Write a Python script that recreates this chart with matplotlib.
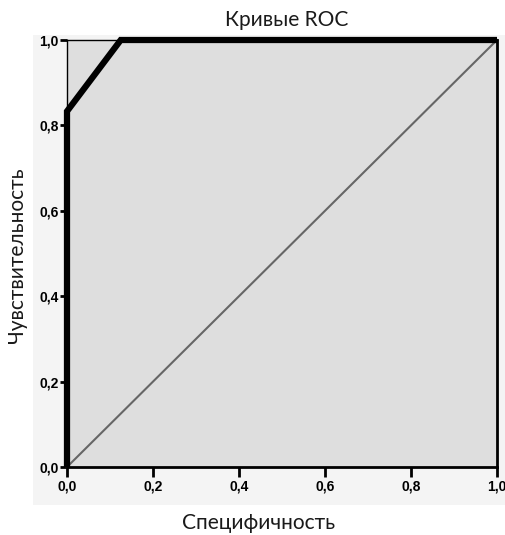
import matplotlib
matplotlib.use("Agg")
import matplotlib.pyplot as plt
from matplotlib.ticker import FixedLocator, FuncFormatter

# ROC curve data (1 - specificity on x, sensitivity on y)
roc_x = [0.0, 0.0, 0.125, 1.0]
roc_y = [0.0, 0.833, 1.0, 1.0]
ref_x = [0.0, 1.0]
ref_y = [0.0, 1.0]
ticks = [0.0, 0.2, 0.4, 0.6, 0.8, 1.0]

title = "Кривые ROC"
xlabel = "Специфичность"
ylabel = "Чувствительность"

W, H = 506, 535
fig = plt.figure(figsize=(W / 100, H / 100), dpi=100)
fig.patch.set_facecolor("white")

# light panel behind the chart
bg = fig.add_axes([33 / W, 1 - 505 / H, (W - 33) / W, (505 - 35) / H], zorder=0)
bg.set_facecolor("#f4f4f4")
bg.set_xticks([])
bg.set_yticks([])
for s in bg.spines.values():
    s.set_visible(False)

ax = fig.add_axes([67 / W, 1 - 467 / H, (497 - 67) / W, (467 - 40) / H], zorder=1)
ax.set_facecolor("#dedede")
ax.set_xlim(0, 1)
ax.set_ylim(0, 1)

ax.plot(ref_x, ref_y, color="#666666", lw=1.5, zorder=2, clip_on=False)
ax.plot(roc_x, roc_y, color="black", lw=4.5, zorder=3, clip_on=False,
        solid_capstyle="butt", solid_joinstyle="miter")

for s in ["left", "top"]:
    ax.spines[s].set_linewidth(1.0)
for s in ["right", "bottom"]:
    ax.spines[s].set_linewidth(2.0)

fmt = FuncFormatter(lambda v, p: f"{v:.1f}".replace(".", ","))
ax.xaxis.set_major_locator(FixedLocator(ticks))
ax.yaxis.set_major_locator(FixedLocator(ticks))
ax.xaxis.set_major_formatter(fmt)
ax.yaxis.set_major_formatter(fmt)
ax.tick_params(axis="x", direction="out", length=7, width=2, pad=2, labelsize=10)
ax.tick_params(axis="y", direction="out", length=5, width=2, pad=1, labelsize=10)
for lab in ax.get_xticklabels() + ax.get_yticklabels():
    lab.set_fontfamily("Liberation Sans")
    lab.set_fontweight("bold")

fig.text(287 / W, 1 - 20 / H, title, ha="center", va="center",
         fontsize=15, family=["Lato", "DejaVu Sans"], color="#1a1a1a")
fig.text(259 / W, 1 - 523 / H, xlabel, ha="center", va="center",
         fontsize=15, family=["Lato", "DejaVu Sans"], color="#1a1a1a")
fig.text(17 / W, 1 - 255 / H, ylabel, ha="center", va="center", rotation=90,
         fontsize=15, family=["Lato", "DejaVu Sans"], color="#1a1a1a")

fig.savefig("out.png", dpi=100)
